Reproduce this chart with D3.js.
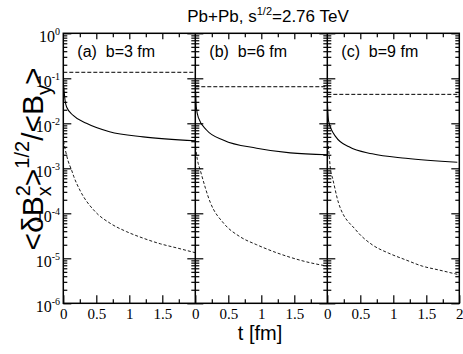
<!DOCTYPE html>
<html><head><meta charset="utf-8">
<script src="https://cdn.jsdelivr.net/npm/d3@7"></script>
<style>body{margin:0;background:#fff}svg{display:block}</style>
</head><body>
<script>
// ---- data ----
const panelLabels = ["(a)  b=3 fm", "(b)  b=6 fm", "(c)  b=9 fm"];
const xTicksMajor = [[0, 0.5, 1, 1.5], [0, 0.5, 1, 1.5], [0, 0.5, 1, 1.5, 2]];
const xTicksMinor = [0.25, 0.75, 1.25, 1.75];
const yDecades = [-6, -5, -4, -3, -2, -1, 0];
const upperLevel = [0.136, 0.065, 0.044];

const solidT_a = [0.005, 0.026, 0.05, 0.15, 0.35, 0.7, 1.21, 2.0];
const solidV_a = [0.07, 0.033, 0.023, 0.015, 0.010, 0.0065, 0.005, 0.0041];
const solidT_b = [0.005, 0.015, 0.05, 0.17, 0.43, 0.93, 1.44, 2.0];
const solidV_b = [0.05, 0.023, 0.013, 0.0071, 0.0042, 0.0028, 0.0022, 0.0020];
const solidT_c = [0.003, 0.02, 0.13, 0.33, 0.68, 1.19, 1.97];
const solidV_c = [0.025, 0.011, 0.005, 0.003, 0.0021, 0.00167, 0.00136];

const lowT_a = [0.003, 0.07, 0.127, 0.16, 0.25, 0.48, 0.71, 0.96, 1.21, 1.47, 1.72, 2.0];
const lowV_a = [0.004, 0.0015, 9e-4, 6.5e-4, 3.3e-4, 1.1e-4, 6e-5, 3.9e-5, 2.8e-5, 2.1e-5, 1.7e-5, 1.33e-5];
const lowT_b = [0.003, 0.03, 0.076, 0.23, 0.43, 0.68, 0.93, 1.19, 1.44, 1.69, 2.0];
const lowV_b = [0.003, 0.0016, 9e-4, 1.7e-4, 6e-5, 3e-5, 2e-5, 1.4e-5, 1.05e-5, 8.3e-6, 6.7e-6];
const lowT_c = [0.003, 0.02, 0.05, 0.08, 0.17, 0.43, 0.68, 0.93, 1.19, 1.44, 1.69, 2.0];
const lowV_c = [0.004, 0.0026, 9e-4, 6e-4, 1.7e-4, 4.3e-5, 2e-5, 1.3e-5, 9.2e-6, 6.7e-6, 5.5e-6, 4.3e-6];

const solidT = [solidT_a, solidT_b, solidT_c], solidV = [solidV_a, solidV_b, solidV_c];
const lowT = [lowT_a, lowT_b, lowT_c], lowV = [lowV_a, lowV_b, lowV_c];

// ---- layout ----
const W = 463, H = 354;
const topY = 33.3, bottomY = 303.3, left0 = 63.3, pw = 132;
const serif = "'Liberation Serif', 'Times New Roman', serif";
const sans = "'Liberation Sans', Arial, Helvetica, sans-serif";

const svg = d3.select("body").append("svg").attr("width", W).attr("height", H);
const y = d3.scaleLog().domain([1e-6, 1]).range([bottomY, topY]);
const yMinor = [];
yDecades.slice(0, -1).forEach(k => { for (let m = 2; m <= 9; m++) yMinor.push(m * Math.pow(10, k)); });
const yMajor = yDecades.map(k => Math.pow(10, k));

function styleAxis(g) {
  g.select(".domain").remove();
  g.selectAll(".tick line").attr("stroke", "#000").attr("stroke-width", 1.2);
}

for (let p = 0; p < 3; p++) {
  const x0 = left0 + p * pw;
  const x = d3.scaleLinear().domain([0, 2]).range([x0, x0 + pw]);
  const g = svg.append("g");

  // bottom ticks
  g.append("g").attr("transform", `translate(0,${bottomY})`)
    .call(d3.axisBottom(x).tickValues(xTicksMajor[p]).tickSize(-8).tickPadding(5)
      .tickFormat(d => d3.format("")(d)))
    .call(styleAxis)
    .call(a => a.attr("font-family", null).selectAll("text")
      .style("font-family", serif).style("font-size", "15px").attr("fill", "#000"));
  g.append("g").attr("transform", `translate(0,${bottomY})`)
    .call(d3.axisBottom(x).tickValues(xTicksMinor).tickSize(-4).tickFormat(""))
    .call(styleAxis);
  // top ticks
  g.append("g").attr("transform", `translate(0,${topY})`)
    .call(d3.axisTop(x).tickValues([0.5, 1, 1.5]).tickSize(-6).tickFormat(""))
    .call(styleAxis);
  g.append("g").attr("transform", `translate(0,${topY})`)
    .call(d3.axisTop(x).tickValues(xTicksMinor).tickSize(-4).tickFormat(""))
    .call(styleAxis);

  // curves
  const line = d3.line().x(d => x(d[0])).y(d => y(d[1])).curve(d3.curveMonotoneX);
  const cp = "clip" + p;
  svg.append("clipPath").attr("id", cp).append("rect")
    .attr("x", x0).attr("y", topY).attr("width", pw).attr("height", bottomY - topY);
  const cg = g.append("g").attr("clip-path", `url(#${cp})`);
  cg.append("path").datum([[0, upperLevel[p]], [2, upperLevel[p]]]).attr("d", line)
    .attr("fill", "none").attr("stroke", "#000").attr("stroke-width", 1).attr("stroke-dasharray", "4,2");
  cg.append("path").datum(solidT[p].map((t, i) => [t, solidV[p][i]])).attr("d", line)
    .attr("fill", "none").attr("stroke", "#000").attr("stroke-width", 1.1);
  cg.append("path").datum(lowT[p].map((t, i) => [t, lowV[p][i]])).attr("d", line)
    .attr("fill", "none").attr("stroke", "#000").attr("stroke-width", 0.9).attr("stroke-dasharray", "3,2");

  // panel label
  g.append("text").attr("x", x0 + 14).attr("y", 56.5).style("font-family", sans).style("font-size", "16px")
    .style("white-space", "pre").text(panelLabels[p]);
}

// vertical axes: left, separators, right
const vx = [left0, left0 + pw, left0 + 2 * pw, left0 + 3 * pw];
vx.forEach((xx, i) => {
  const sides = i === 0 ? [-1] : i === 3 ? [1] : [-1, 1];
  sides.forEach(s => {
    svg.append("g").attr("transform", `translate(${xx},0)`)
      .call((s < 0 ? d3.axisLeft(y) : d3.axisRight(y)).tickValues(yMajor).tickSize(-8).tickFormat("")).call(styleAxis);
    svg.append("g").attr("transform", `translate(${xx},0)`)
      .call((s < 0 ? d3.axisLeft(y) : d3.axisRight(y)).tickValues(yMinor).tickSize(-4).tickFormat("")).call(styleAxis);
  });
});
// frame lines
svg.append("rect").attr("x", left0).attr("y", topY).attr("width", 3 * pw).attr("height", bottomY - topY)
  .attr("fill", "none").attr("stroke", "#000").attr("stroke-width", 1.5);
[1, 2].forEach(i => svg.append("line").attr("x1", left0 + i * pw).attr("x2", left0 + i * pw)
  .attr("y1", topY).attr("y2", bottomY).attr("stroke", "#000").attr("stroke-width", 1.5));

// y tick labels
yDecades.forEach(k => {
  const t = svg.append("text").attr("x", 60).attr("y", y(Math.pow(10, k)) + 9)
    .attr("text-anchor", "end").style("font-family", serif).style("font-size", "16px");
  t.append("tspan").text("10");
  t.append("tspan").attr("dy", -7).style("font-size", "10px").text(k === 0 ? "0" : "-" + (-k));
});

// title
const title = svg.append("text").attr("x", 268).attr("y", 21.5).attr("text-anchor", "middle")
  .style("font-family", sans).style("font-size", "17px");
title.append("tspan").text("Pb+Pb, s");
title.append("tspan").attr("dy", -7).style("font-size", "11px").text("1/2");
title.append("tspan").attr("dy", 7).text("=2.76 TeV");

// x label
svg.append("text").attr("x", 260).attr("y", 340).attr("text-anchor", "middle")
  .style("font-family", sans).style("font-size", "20px").text("t [fm]");

// y label
const yl = svg.append("text").attr("transform", "translate(43,159) rotate(-90)")
  .attr("text-anchor", "middle").style("font-family", sans).style("font-size", "30px");
yl.append("tspan").text("<δB");
yl.append("tspan").attr("dy", -13).style("font-size", "20px").text("2");
yl.append("tspan").attr("dx", -11).attr("dy", 21).style("font-size", "20px").text("x");
yl.append("tspan").attr("dy", -8).text(">");
yl.append("tspan").attr("dy", -14).style("font-size", "20px").text("1/2");
yl.append("tspan").attr("dy", 14).text("/<B");
yl.append("tspan").attr("dy", 8).style("font-size", "20px").text("y");
yl.append("tspan").attr("dy", -8).text(">");
</script>
</body></html>
